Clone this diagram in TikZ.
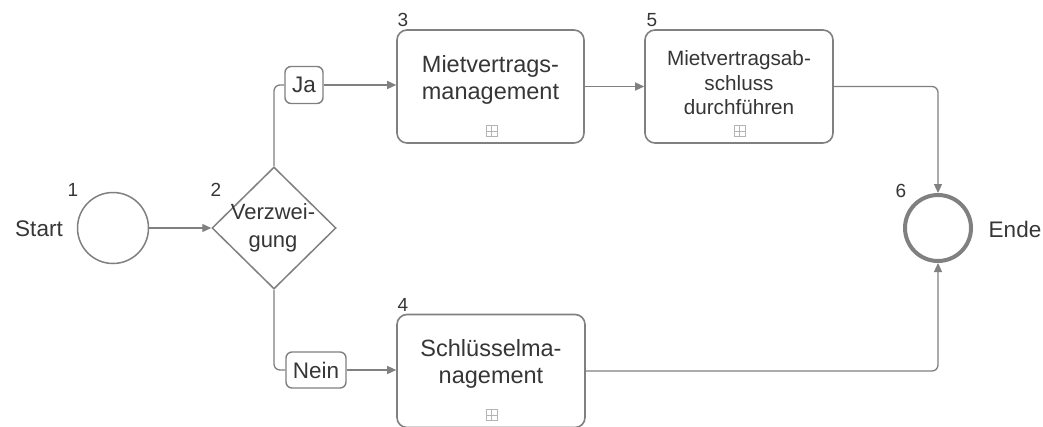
\documentclass[tikz,border=0pt]{standalone}
\usepackage{fontspec}
\setmainfont{Liberation Sans}
\usetikzlibrary{arrows.meta,shapes.geometric}
\definecolor{linec}{HTML}{808080}
\definecolor{txtc}{HTML}{363636}
\definecolor{iconc}{HTML}{B4B4B4}
\begin{document}
\begin{tikzpicture}[x=1pt,y=-1pt,
  every node/.style={text=txtc, font=\fontsize{22.5}{27}\selectfont, inner sep=0pt},
  task/.style={draw=linec, line width=1.6pt, rounded corners=10pt, minimum width=187pt, minimum height=113pt, fill=white},
  tasktext/.style={align=center, font=\fontsize{23.5}{27.5}\selectfont},
  cond/.style={draw=linec, line width=1.4pt, rounded corners=6pt, minimum height=36pt, fill=white},
  numlab/.style={font=\fontsize{19}{22}\selectfont},
  flow/.style={draw=linec, line width=1.3pt},
  conn/.style={flow, -{Triangle[length=9pt,width=8pt]}, rounded corners=6pt},
  expicon/.pic={\draw[iconc, line width=0.8pt] (-5.5,-5.5) rectangle (5.5,5.5) (0,-5.5)--(0,5.5) (-5.5,0)--(5.5,0);}
]
\useasboundingbox (0,0) rectangle (1043,426);
\fill[white] (0,0) rectangle (1043,426);

% start
\node[circle, draw=linec, line width=1.5pt, minimum size=71pt] (start) at (113,228) {};
\node (startl) at (39,229) {Start};
\node[numlab] (n1) at (73,190) {1};

% gateway
\node[diamond, draw=linec, line width=1.5pt, minimum width=124pt, minimum height=122pt] (gw) at (274,228) {};
\node[align=center, font=\fontsize{22}{28}\selectfont] (gwl) at (273,228) {Verzwei-\\gung};
\node[numlab] (n2) at (216,190) {2};

% conditions
\node[cond, minimum width=38pt, minimum height=37pt] (ja) at (304,85) {Ja};
\node[cond, minimum width=60pt] (nein) at (316,370) {Nein};

% tasks
\node[task] (t3) at (490.5,86.5) {};
\node[tasktext] (t3l) at (490.5,80) {Mietvertrags-\\management};
\pic at (491.5,131) {expicon};
\node[numlab] (n3) at (403,20) {3};

\node[task, minimum width=188pt] (t5) at (739,86.5) {};
\node[align=center, font=\fontsize{20.7}{24.5}\selectfont] (t5l) at (739,83) {Mietvertragsab-\\schluss\\durchführen};
\pic at (739.5,131) {expicon};
\node[numlab] (n5) at (652,20) {5};

\node[task, minimum width=188pt] (t4) at (491,371) {};
\node[tasktext] (t4l) at (491,364) {Schlüsselma-\\nagement};
\pic at (491.5,415) {expicon};
\node[numlab] (n4) at (403,305) {4};

% end
\node[circle, draw=linec, line width=4pt, minimum size=66pt] (end) at (938,228) {};
\node (endl) at (1015,229) {Ende};
\node[numlab] (n6) at (901,191) {6};

% connectors
\draw[conn] (start) -- (gw);
\draw[flow, rounded corners=6pt] (gw.north) |- (ja.west);
\draw[conn] (ja.east) -- (ja.east -| t3.west);
\draw[conn] (t3) -- (t5);
\draw[conn] (t5.east) -| (end.north);
\draw[flow, rounded corners=6pt] (gw.south) |- (nein.west);
\draw[conn] (nein.east) -- (nein.east -| t4.west);
\draw[conn] (t4.east) -| (end.south);
\end{tikzpicture}
\end{document}
